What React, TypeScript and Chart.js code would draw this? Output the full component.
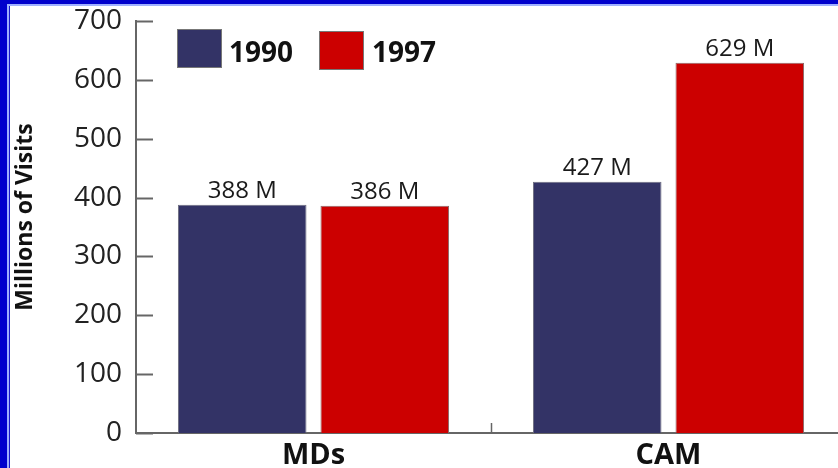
import React, { useEffect, useRef } from "react";
import { Chart, registerables } from "chart.js";

Chart.register(...registerables);

// Office visits, in millions
const categories = ["MDs", "CAM"];
const seriesLabels = ["1990", "1997"];
const visits1990 = [388, 427];
const visits1997 = [386, 629];
const yTickValues = [0, 100, 200, 300, 400, 500, 600, 700];
const yAxisTitle = "Millions of Visits";

const NAVY = "#333366";
const RED = "#cc0000";
const AXIS = "#666666";
const TEXT = "#1a1a1a";
const FONT = "'Open Sans', 'DejaVu Sans', sans-serif";

const CANVAS_W = 846;
const CANVAS_H = 468;

const decorations = {
  id: "decorations",
  afterDatasetsDraw(chart: any) {
    const { ctx, chartArea, scales } = chart;
    const x = scales.x;
    const y = scales.y;
    ctx.save();

    // inward tick marks on the value axis
    ctx.strokeStyle = AXIS;
    ctx.lineWidth = 2;
    y.ticks.forEach((t: any) => {
      const py = Math.round(y.getPixelForValue(t.value)) + 0.5;
      ctx.beginPath();
      ctx.moveTo(chartArea.left, py);
      ctx.lineTo(chartArea.left + 17, py);
      ctx.stroke();
    });

    // small divider tick between the two categories
    ctx.lineWidth = 1.5;
    for (let i = 1; i < categories.length; i++) {
      const px = Math.round((x.getPixelForValue(i - 1) + x.getPixelForValue(i)) / 2) + 0.5;
      ctx.beginPath();
      ctx.moveTo(px, chartArea.bottom);
      ctx.lineTo(px, chartArea.bottom - 10);
      ctx.stroke();
    }

    // value labels above each bar
    ctx.fillStyle = TEXT;
    ctx.font = `24px ${FONT}`;
    ctx.textAlign = "center";
    ctx.textBaseline = "alphabetic";
    chart.data.datasets.forEach((ds: any, di: number) => {
      const meta = chart.getDatasetMeta(di);
      meta.data.forEach((bar: any, i: number) => {
        ctx.fillText(`${ds.data[i]} M`, bar.x, bar.y - 7);
      });
    });

    // legend swatches
    const legendPos = [
      { x: chartArea.left + 41, y: 29, tx: chartArea.left + 93 },
      { x: chartArea.left + 183, y: 31, tx: chartArea.left + 236 },
    ];
    ctx.font = `bold 28px ${FONT}`;
    ctx.textAlign = "left";
    chart.data.datasets.forEach((ds: any, di: number) => {
      const p = legendPos[di];
      ctx.fillStyle = ds.backgroundColor;
      ctx.fillRect(p.x, p.y, 45, 39);
      ctx.strokeStyle = "#777777";
      ctx.lineWidth = 1;
      ctx.strokeRect(p.x + 0.5, p.y + 0.5, 44, 38);
      ctx.fillStyle = "#111111";
      ctx.fillText(ds.label, p.tx, 62);
    });

    // rotated value-axis title
    ctx.translate(32, (chartArea.top + chartArea.bottom) / 2 - 10);
    ctx.rotate(-Math.PI / 2);
    ctx.font = `bold 23px ${FONT}`;
    ctx.textAlign = "center";
    ctx.fillStyle = "#111111";
    ctx.fillText(yAxisTitle, 0, 0);

    ctx.restore();
  },
};

function BarChart() {
  const canvasRef = useRef<HTMLCanvasElement | null>(null);

  useEffect(() => {
    const canvas = canvasRef.current;
    if (!canvas) return;
    const chart = new Chart(canvas, {
      type: "bar",
      data: {
        labels: categories,
        datasets: [
          {
            label: seriesLabels[0],
            data: visits1990,
            backgroundColor: NAVY,
            borderColor: "#6e6e80",
            borderWidth: 1,
            categoryPercentage: 0.803,
            barPercentage: 0.902,
          },
          {
            label: seriesLabels[1],
            data: visits1997,
            backgroundColor: RED,
            borderColor: "#8a6a6a",
            borderWidth: 1,
            categoryPercentage: 0.803,
            barPercentage: 0.902,
          },
        ],
      },
      options: {
        responsive: false,
        animation: false,
        layout: { padding: { top: 21, right: 0, bottom: 0, left: 0 } },
        plugins: {
          legend: { display: false },
          tooltip: { enabled: false },
          title: { display: false },
        },
        scales: {
          x: {
            grid: { display: false, drawTicks: false, tickLength: 0 },
            border: { display: true, color: AXIS, width: 2 },
            ticks: {
              color: "#111111",
              font: { family: FONT, size: 29, weight: "bold" },
              padding: 5,
            },
            afterFit: (scale: any) => {
              scale.height = 35;
            },
          },
          y: {
            min: 0,
            max: 700,
            afterBuildTicks: (scale: any) => {
              scale.ticks = yTickValues.map((v) => ({ value: v }));
            },
            grid: { display: false, drawTicks: false, tickLength: 0 },
            border: { display: true, color: AXIS, width: 2 },
            ticks: {
              color: "#222222",
              font: { family: FONT, size: 28 },
              padding: 14,
            },
            afterFit: (scale: any) => {
              scale.width = 136;
              scale.paddingTop = 0;
              scale.paddingBottom = 0;
            },
          },
        },
      },
      plugins: [decorations],
    });
    return () => chart.destroy();
  }, []);

  return (
    <canvas
      ref={canvasRef}
      width={CANVAS_W}
      height={CANVAS_H}
      style={{ display: "block", width: CANVAS_W, height: CANVAS_H }}
    />
  );
}

export default function App() {
  return (
    <div
      style={{
        position: "fixed",
        left: 0,
        top: 0,
        width: 838,
        height: 468,
        overflow: "hidden",
        background: "#ffffff",
      }}
    >
      <BarChart />
      {/* blue slide frame along the top and left edges */}
      <div style={{ position: "absolute", left: 0, top: 0, width: 838, height: 4, background: "#0000cc" }} />
      <div style={{ position: "absolute", left: 0, top: 4, width: 838, height: 2, background: "#9fb0ff" }} />
      <div style={{ position: "absolute", left: 0, top: 0, width: 7, height: 468, background: "#0000cc" }} />
      <div style={{ position: "absolute", left: 7, top: 4, width: 2, height: 464, background: "#9fb0ff" }} />
      <div style={{ position: "absolute", left: 9, top: 6, width: 1, height: 462, background: "#1a1acc" }} />
    </div>
  );
}
